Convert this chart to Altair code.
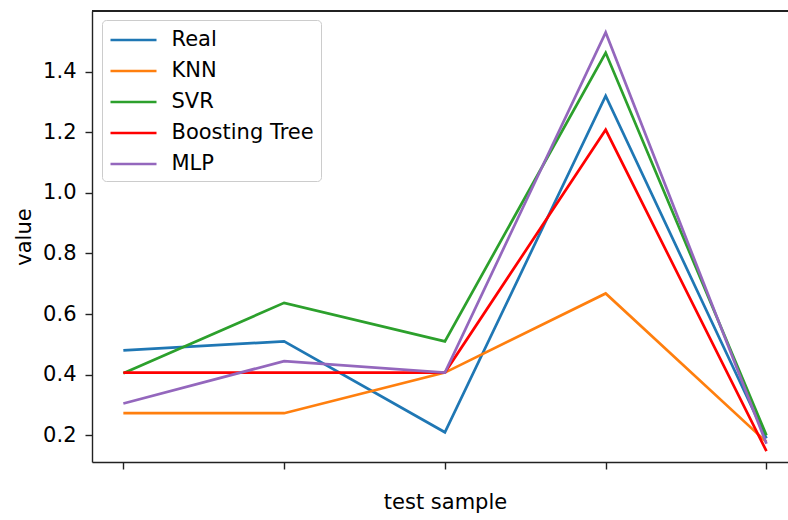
import altair as alt
import pandas as pd

# Predictions of each model on the five test samples
samples = [0, 1, 2, 3, 4]
models = ["Real", "KNN", "SVR", "Boosting Tree", "MLP"]
colors = ["#1f77b4", "#ff7f0e", "#2ca02c", "#ff0000", "#9467bd"]

real = [0.48, 0.51, 0.21, 1.32, 0.19]
knn = [0.273, 0.273, 0.407, 0.668, 0.178]
svr = [0.405, 0.637, 0.510, 1.462, 0.200]
boosting = [0.407, 0.407, 0.407, 1.208, 0.148]
mlp = [0.305, 0.445, 0.407, 1.529, 0.172]

series = [real, knn, svr, boosting, mlp]
rows = []
for name, vals in zip(models, series):
    for s, v in zip(samples, vals):
        rows.append({"sample": s, "value": v, "model": name})
df = pd.DataFrame(rows)

W, H = 696, 451
FONT = "DejaVu Sans"
FS = 21

lines = alt.Chart(df).mark_line(strokeWidth=2.7).encode(
    x=alt.X(
        "sample:Q",
        scale=alt.Scale(domain=[-0.195, 4.134], nice=False, zero=False),
        axis=alt.Axis(
            values=samples,
            labels=False,
            grid=False,
            title="test sample",
            titleY=46,
            titleX=353,
            titleBaseline="alphabetic",
        ),
    ),
    y=alt.Y(
        "value:Q",
        scale=alt.Scale(domain=[0.112, 1.600], nice=False, zero=False),
        axis=alt.Axis(
            values=[0.2, 0.4, 0.6, 0.8, 1.0, 1.2, 1.4],
            format=".1f",
            grid=False,
            title="value",
            titlePadding=8,
        ),
    ),
    color=alt.Color(
        "model:N",
        sort=models,
        scale=alt.Scale(domain=models, range=colors),
        legend=alt.Legend(
            title=None,
            orient="none",
            legendX=10,
            legendY=9,
            # a long horizontal stroke on a compact row
            symbolType="M-2,0H2",
            symbolSize=529,
            symbolOffset=11.5,
            symbolStrokeWidth=2.7,
            labelOffset=25,
            labelFontSize=FS,
            labelFont=FONT,
            labelColor="#000000",
            rowPadding=8,
            padding=7,
            fillColor="rgba(255,255,255,0.8)",
            strokeColor="#cccccc",
            cornerRadius=4,
        ),
    ),
    detail="model:N",
)

# top border of the frame
top = alt.Chart(df).mark_rule(color="#222222", strokeWidth=1.4).encode(
    x=alt.value(0), x2=alt.value(W), y=alt.value(0)
)

chart = (
    alt.layer(lines, top)
    .properties(
        width=W,
        height=H,
        padding={"left": 92, "top": 11, "right": 0, "bottom": 58},
        autosize="none",
        background="white",
    )
    .configure_view(stroke=None)
    .configure_axis(
        domainColor="#222222",
        domainWidth=1.4,
        tickColor="#222222",
        tickWidth=1.4,
        tickSize=7,
        labelPadding=9,
        labelFont=FONT,
        labelFontSize=FS,
        labelColor="#000000",
        titleFont=FONT,
        titleFontSize=FS,
        titleFontWeight="normal",
        titleColor="#000000",
    )
)

chart.save("out.html", embed_options={"renderer": "svg", "actions": False})
